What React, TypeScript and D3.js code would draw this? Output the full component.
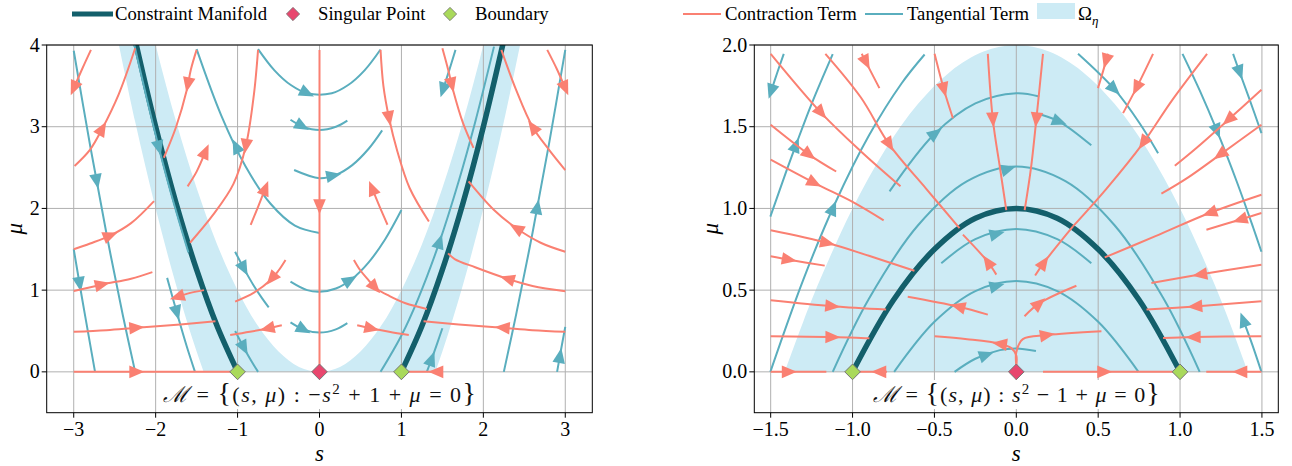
import React from "react"
import * as d3 from "d3"

type Pt = [number, number]
type Stream = { pts: Pt[]; arrow: Pt }

const SALMON = "#fa8072"
const TEAL = "#5aaebe"
const DARK = "#135f6b"
const SHADE = "#cdebf5"
const PINK = "#e8476e"
const GREEN = "#a9d95b"
const FONT = "Liberation Serif"

// ---------- left panel: M = {-s^2 + 1 + mu = 0} ----------
const leftXTicks = [-3, -2, -1, 0, 1, 2, 3]
const leftYTicks = [0, 1, 2, 3, 4]

const leftManifoldNeg: Pt[] = [[-2.25, 4.06], [-2, 3], [-1.75, 2.06], [-1.5, 1.25], [-1.25, 0.56], [-1, 0]]
const leftManifoldPos: Pt[] = [[1, 0], [1.25, 0.56], [1.5, 1.25], [1.75, 2.06], [2, 3], [2.25, 4.06]]

const leftOmegaS = [-2.5, -2.25, -2, -1.75, -1.5, -1.25, -1, -0.75, -0.5, -0.25, 0, 0.25, 0.5, 0.75, 1, 1.25, 1.5, 1.75, 2, 2.25, 2.5]
const leftOmegaUpper = [6.25, 5.06, 4, 3.06, 2.25, 1.56, 1, 0.56, 0.25, 0.06, 0, 0.06, 0.25, 0.56, 1, 1.56, 2.25, 3.06, 4, 5.06, 6.25]
const leftOmegaLower = [4.25, 3.06, 2, 1.06, 0.25, -0.44, -1, -1.44, -1.75, -1.94, -2, -1.94, -1.75, -1.44, -1, -0.44, 0.25, 1.06, 2, 3.06, 4.25]

const leftContraction: Stream[] = [
  { pts: [[-2.79, 3.94], [-2.9, 3.7], [-3.0, 3.47]], arrow: [-3.0, 3.47] },
  { pts: [[-2.99, 2.52], [-2.8, 2.72], [-2.65, 2.98], [-2.45, 3.4], [-2.25, 3.96]], arrow: [-2.65, 2.98] },
  { pts: [[-1.5, 3.94], [-1.57, 3.7], [-1.62, 3.45], [-1.75, 3.0], [-1.9, 2.62]], arrow: [-1.6, 3.51] },
  { pts: [[-1.61, 2.27], [-1.5, 2.45], [-1.39, 2.7]], arrow: [-1.39, 2.7] },
  { pts: [[-0.75, 3.94], [-0.8, 3.4], [-0.9, 2.76], [-1.05, 2.3], [-1.3, 1.92], [-1.58, 1.58]], arrow: [-0.9, 2.76] },
  { pts: [[-3, 1.5], [-2.8, 1.57], [-2.55, 1.67], [-2.3, 1.82], [-2.02, 2.09]], arrow: [-2.55, 1.67] },
  { pts: [[-3, 0.99], [-2.65, 1.07], [-2.3, 1.14], [-2.04, 1.22]], arrow: [-2.65, 1.07] },
  { pts: [[-3, 0.49], [-2.6, 0.51], [-2.23, 0.54], [-1.7, 0.58], [-1.27, 0.62]], arrow: [-2.23, 0.54] },
  { pts: [[-3, 0], [-1.05, 0]], arrow: [-2.23, 0] },
  { pts: [[-1.41, 1.0], [-1.6, 0.96], [-1.76, 0.91]], arrow: [-1.74, 0.92] },
  { pts: [[-0.415, 1.37], [-0.5, 1.24], [-0.6, 1.12], [-0.8, 0.97], [-1.03, 0.86]], arrow: [-0.58, 1.13] },
  { pts: [[-0.46, 0.57], [-0.64, 0.53], [-0.85, 0.49], [-1.09, 0.45]], arrow: [-0.64, 0.53] },
  { pts: [[-0.84, 1.8], [-0.75, 2.02], [-0.66, 2.25]], arrow: [-0.66, 2.25] },
  { pts: [[0, 3.94], [0, 0]], arrow: [0, 2.02] },
  { pts: [[0.745, 3.94], [0.78, 3.5], [0.85, 3.1], [0.95, 2.7], [1.1, 2.25], [1.335, 1.84]], arrow: [0.85, 3.1] },
  { pts: [[0.83, 1.8], [0.73, 2.03], [0.64, 2.25]], arrow: [0.64, 2.25] },
  { pts: [[1.5, 3.96], [1.57, 3.7], [1.63, 3.45], [1.75, 3.05], [1.88, 2.74]], arrow: [1.62, 3.51] },
  { pts: [[3.0, 2.47], [2.8, 2.72], [2.6, 3.0], [2.4, 3.45], [2.22, 3.94]], arrow: [2.6, 3.0] },
  { pts: [[2.78, 3.94], [2.9, 3.7], [3.0, 3.47]], arrow: [3.0, 3.47] },
  { pts: [[3.0, 1.47], [2.7, 1.58], [2.4, 1.76], [2.13, 1.98], [1.82, 2.33]], arrow: [2.4, 1.76] },
  { pts: [[3.0, 0.985], [2.6, 1.05], [2.29, 1.14], [1.9, 1.28], [1.65, 1.38], [1.57, 1.45]], arrow: [2.29, 1.14] },
  { pts: [[3.0, 0.49], [2.6, 0.51], [2.23, 0.54], [1.7, 0.58], [1.27, 0.62]], arrow: [2.23, 0.54] },
  { pts: [[1.48, 0], [1.02, 0]], arrow: [1.42, 0] },
  { pts: [[0.42, 1.37], [0.5, 1.24], [0.6, 1.12], [0.68, 1.03], [0.85, 0.93], [1.05, 0.84], [1.31, 0.77]], arrow: [0.68, 1.03] },
  { pts: [[0.46, 0.57], [0.64, 0.53], [0.85, 0.49], [1.09, 0.45]], arrow: [0.64, 0.53] },
]

const leftTangential: Stream[] = [
  { pts: [[-3, 3.93], [-2.8, 2.77], [-2.6, 1.69], [-2.4, 0.69], [-2.25, 0]], arrow: [-2.72, 2.33] },
  { pts: [[-3, 1.5], [-2.9, 0.91], [-2.8, 0.34], [-2.74, 0]], arrow: [-2.93, 1.07] },
  { pts: [[0, 1.7], [-0.3, 1.79], [-0.6, 2.06], [-0.9, 2.51], [-1.2, 3.14], [-1.5, 3.95]], arrow: [-1.03, 2.76] },
  { pts: [[-0.75, 3.95], [-0.55, 3.69], [-0.35, 3.51], [-0.15, 3.41], [0.15, 3.41], [0.35, 3.51], [0.55, 3.69], [0.745, 3.945]], arrow: [-0.15, 3.41] },
  { pts: [[-0.354, 3.085], [-0.2, 3.0], [0, 2.96], [0.2, 3.0], [0.34, 3.075]], arrow: [-0.21, 3.0] },
  { pts: [[-0.31, 2.47], [0, 2.37], [0.2, 2.41], [0.4, 2.53], [0.6, 2.73], [0.765, 2.955]], arrow: [0.175, 2.4] },
  { pts: [[-0.354, 1.105], [-0.15, 1.0], [0, 0.98], [0.2, 1.02], [0.4, 1.14], [0.6, 1.34], [0.8, 1.62], [1.0, 1.98]], arrow: [0.38, 1.12] },
  { pts: [[-1.03, 1.47], [-0.92, 1.26], [-0.8, 1.05], [-0.7, 0.9], [-0.62, 0.79]], arrow: [-0.92, 1.26] },
  { pts: [[-0.354, 0.605], [-0.19, 0.516], [0, 0.48], [0.2, 0.52], [0.34, 0.596]], arrow: [-0.19, 0.516] },
  { pts: [[-1.03, 0.5], [-0.92, 0.29], [-0.83, 0.13], [-0.75, 0]], arrow: [-0.92, 0.29] },
  { pts: [[0.745, 0], [1.0, 0.445], [1.2, 0.885], [1.46, 1.575], [1.7, 2.335], [1.9, 3.055], [2.13, 3.98]], arrow: [1.46, 1.6] },
  { pts: [[1.31, 0], [1.376, 0.177], [1.44, 0.358], [1.5, 0.534]], arrow: [1.376, 0.16] },
  { pts: [[2.25, 0], [2.4, 0.7], [2.6, 1.7], [2.8, 2.78], [3.0, 3.94]], arrow: [2.66, 2.02] },
  { pts: [[2.9, 0], [2.95, 0.28], [3.0, 0.55]], arrow: [2.94, 0.2] },
  { pts: [[1.66, 3.94], [1.58, 3.68], [1.5, 3.43]], arrow: [1.5, 3.45] },
  { pts: [[-1.86, 1.15], [-1.74, 0.72], [-1.62, 0.31], [-1.52, 0]], arrow: [-1.74, 0.72] },
  { pts: [[-2.26, 4.0], [-2.1, 3.31], [-1.96, 2.74], [-1.8, 2.14], [-1.6, 1.46]], arrow: [-1.96, 2.74] },
]

const leftBoundary: Pt[] = [[-1, 0], [1, 0]]
const leftSingular: Pt[] = [[0, 0]]

// ---------- right panel: M = {s^2 - 1 + mu = 0} ----------
const rightXTicks = [-1.5, -1, -0.5, 0, 0.5, 1, 1.5]
const rightYTicks = [0, 0.5, 1, 1.5, 2]

const rightManifold: Pt[] = [[-1, 0], [-0.75, 0.44], [-0.5, 0.75], [-0.25, 0.94], [0, 1], [0.25, 0.94], [0.5, 0.75], [0.75, 0.44], [1, 0]]

const rightOmegaS = [-1.414, -1.3, -1.2, -1.0, -0.8, -0.6, -0.4, -0.2, 0, 0.2, 0.4, 0.6, 0.8, 1.0, 1.2, 1.3, 1.414]
const rightOmegaUpper = [0, 0.31, 0.56, 1.0, 1.36, 1.64, 1.84, 1.96, 2.0, 1.96, 1.84, 1.64, 1.36, 1.0, 0.56, 0.31, 0]
const rightOmegaLower = [0, -0.5, -0.5, -0.5, -0.5, -0.5, -0.5, -0.5, -0.5, -0.5, -0.5, -0.5, -0.5, -0.5, -0.5, -0.5, 0]

const rightContraction: Stream[] = [
  { pts: [[-1.5, 1.946], [-1.19, 1.583], [-0.95, 1.35], [-0.707, 1.135]], arrow: [-1.19, 1.583] },
  { pts: [[-1.5, 1.512], [-1.263, 1.328], [-1.1, 1.226]], arrow: [-1.263, 1.328] },
  { pts: [[-1.5, 1.298], [-1.232, 1.155], [-1.0, 1.04], [-0.81, 0.927]], arrow: [-1.232, 1.155] },
  { pts: [[-1.166, 1.946], [-0.95, 1.68], [-0.774, 1.389], [-0.55, 1.12], [-0.347, 0.88]], arrow: [-0.774, 1.389] },
  { pts: [[-0.944, 1.946], [-0.9, 1.86], [-0.836, 1.736]], arrow: [-0.92, 1.89] },
  { pts: [[-0.499, 1.946], [-0.44, 1.72], [-0.387, 1.552]], arrow: [-0.44, 1.726] },
  { pts: [[-0.174, 1.946], [-0.143, 1.542], [-0.1, 1.25], [-0.061, 0.99]], arrow: [-0.143, 1.542] },
  { pts: [[0.163, 1.946], [0.122, 1.542], [0.09, 1.25], [0.051, 0.99]], arrow: [0.122, 1.542] },
  { pts: [[0.56, 1.946], [0.53, 1.84], [0.499, 1.736]], arrow: [0.55, 1.9] },
  { pts: [[0.835, 1.946], [0.733, 1.736], [0.652, 1.583]], arrow: [0.733, 1.736] },
  { pts: [[1.165, 1.946], [0.95, 1.66], [0.774, 1.4], [0.55, 1.12], [0.346, 0.89]], arrow: [0.774, 1.4] },
  { pts: [[1.497, 1.726], [1.294, 1.542], [1.1, 1.37], [0.968, 1.261]], arrow: [1.294, 1.542] },
  { pts: [[1.497, 1.512], [1.243, 1.328], [1.05, 1.19], [0.886, 1.09]], arrow: [1.243, 1.328] },
  { pts: [[1.497, 1.084], [1.18, 0.972], [0.85, 0.83], [0.54, 0.7]], arrow: [1.18, 0.972] },
  { pts: [[1.497, 0.972], [1.365, 0.931], [1.161, 0.87]], arrow: [1.365, 0.931] },
  { pts: [[1.497, 0.656], [1.12, 0.595], [0.825, 0.544]], arrow: [1.12, 0.595] },
  { pts: [[1.497, 0.432], [1.09, 0.4], [0.795, 0.381]], arrow: [1.09, 0.4] },
  { pts: [[1.497, 0.218], [1.08, 0.213], [0.896, 0.207]], arrow: [1.08, 0.213] },
  { pts: [[1.497, 0], [1.16, 0]], arrow: [1.365, 0] },
  { pts: [[0.163, 0], [0.96, 0]], arrow: [0.54, 0] },
  { pts: [[-1.5, 0], [-1.16, 0]], arrow: [-1.386, 0] },
  { pts: [[-0.79, 0], [-0.97, 0]], arrow: [-0.84, 0] },
  { pts: [[-1.5, 0.866], [-1.152, 0.788], [-0.9, 0.71], [-0.622, 0.619]], arrow: [-1.152, 0.788] },
  { pts: [[-1.5, 0.707], [-1.386, 0.686], [-1.17, 0.65]], arrow: [-1.386, 0.686] },
  { pts: [[-1.5, 0.438], [-1.121, 0.401], [-0.795, 0.381]], arrow: [-1.121, 0.401] },
  { pts: [[-1.5, 0.218], [-1.12, 0.213], [-0.897, 0.205]], arrow: [-1.12, 0.213] },
  { pts: [[-0.174, 0.35], [-0.357, 0.4], [-0.663, 0.46]], arrow: [-0.357, 0.4] },
  { pts: [[0, 0.04], [0, 0.1], [-0.03, 0.145], [-0.102, 0.172], [-0.3, 0.2], [-0.499, 0.218]], arrow: [-0.102, 0.175] },
  { pts: [[0, 0.04], [0, 0.12], [0.04, 0.2], [0.19, 0.225], [0.52, 0.248]], arrow: [0.19, 0.225] },
  { pts: [[0.05, 0.34], [0.142, 0.42], [0.367, 0.527]], arrow: [0.142, 0.42] },
  { pts: [[-0.122, 0.595], [-0.18, 0.68], [-0.326, 0.84]], arrow: [-0.174, 0.676] },
  { pts: [[0.115, 0.59], [0.17, 0.67], [0.346, 0.89]], arrow: [0.17, 0.67] },
]

const rightTangential: Stream[] = [
  { pts: [[-1.502, 0], [-1.3, 0.566], [-1.11, 1.024], [-0.9, 1.446], [-0.7, 1.766], [-0.56, 1.942]], arrow: [-1.11, 1.0] },
  { pts: [[-1.502, 0.95], [-1.4, 1.24], [-1.345, 1.39], [-1.25, 1.64], [-1.121, 1.944]], arrow: [-1.345, 1.39] },
  { pts: [[-1.42, 1.946], [-1.46, 1.83], [-1.498, 1.715]], arrow: [-1.498, 1.715] },
  { pts: [[-0.774, 1.104], [-0.5, 1.455], [-0.25, 1.643], [0, 1.705], [0.14, 1.685]], arrow: [-0.499, 1.47] },
  { pts: [[0.153, 1.573], [0.265, 1.53], [0.458, 1.386]], arrow: [0.265, 1.53] },
  { pts: [[-1.121, 0], [-0.9, 0.447], [-0.6, 0.897], [-0.3, 1.167], [0, 1.257], [0.3, 1.167], [0.6, 0.897], [0.9, 0.447], [1.12, 0]], arrow: [-0.051, 1.257] },
  { pts: [[-0.746, 0], [-0.5, 0.306], [-0.25, 0.494], [0, 0.556], [0.25, 0.494], [0.5, 0.306], [0.746, 0]], arrow: [-0.12, 0.54] },
  { pts: [[-0.458, 0.664], [-0.25, 0.812], [0, 0.874], [0.25, 0.812], [0.458, 0.664]], arrow: [-0.12, 0.86] },
  { pts: [[-0.377, 0], [-0.25, 0.08], [-0.1, 0.133], [0, 0.143], [0.12, 0.128]], arrow: [-0.183, 0.11] },
  { pts: [[1.497, 0], [1.44, 0.17], [1.385, 0.32]], arrow: [1.385, 0.32] },
  { pts: [[1.324, 1.946], [1.365, 1.83], [1.42, 1.68], [1.497, 1.461]], arrow: [1.365, 1.83] },
  { pts: [[1.015, 1.946], [1.12, 1.722], [1.222, 1.483], [1.35, 1.154], [1.446, 0.885], [1.497, 0.735]], arrow: [1.222, 1.47] },
  { pts: [[0.377, 1.946], [0.6, 1.728], [0.75, 1.526], [0.866, 1.338]], arrow: [0.6, 1.728] },
]

const rightBoundary: Pt[] = [[-1, 0], [1, 0]]
const rightSingular: Pt[] = [[0, 0]]

const DIAMOND = "M0,-7.8L7.8,0L0,7.8L-7.8,0Z"
const HEAD = "M7.5,0L-7.5,-6.3L-7.5,6.3Z"

function arrowPlace(pp: Pt[], t: Pt) {
  let best = Infinity
  let res = { x: pp[0][0], y: pp[0][1], a: 0 }
  for (let i = 0; i < pp.length - 1; i++) {
    const [x1, y1] = pp[i]
    const [x2, y2] = pp[i + 1]
    const dx = x2 - x1
    const dy = y2 - y1
    const l2 = dx * dx + dy * dy || 1
    const u = Math.max(0, Math.min(1, ((t[0] - x1) * dx + (t[1] - y1) * dy) / l2))
    const px = x1 + u * dx
    const py = y1 + u * dy
    const d = (px - t[0]) ** 2 + (py - t[1]) ** 2
    if (d < best) {
      best = d
      res = { x: px, y: py, a: (Math.atan2(dy, dx) * 180) / Math.PI }
    }
  }
  return res
}

interface PanelProps {
  id: string
  xDomain: [number, number]
  yDomain: [number, number]
  xRange: [number, number]
  yRange: [number, number]
  xTicks: number[]
  yTicks: number[]
  fmt: (d: number) => string
  omegaS: number[]
  omegaUpper: number[]
  omegaLower: number[]
  manifolds: Pt[][]
  contraction: Stream[]
  tangential: Stream[]
  boundary: Pt[]
  singular: Pt[]
  label: React.ReactNode
  labelWidth: number
  muX: number
}

function Panel(p: PanelProps) {
  const x = d3.scaleLinear().domain(p.xDomain).range(p.xRange)
  const y = d3.scaleLinear().domain(p.yDomain).range(p.yRange)
  const line = d3
    .line<Pt>()
    .x((d) => x(d[0]))
    .y((d) => y(d[1]))
    .curve(d3.curveCatmullRom.alpha(0.5))
  const area = d3
    .area<number>()
    .x((d) => x(d))
    .y0((_, i) => y(p.omegaLower[i]))
    .y1((_, i) => y(p.omegaUpper[i]))
    .curve(d3.curveCatmullRom.alpha(0.5))
  const [x0, x1] = p.xRange
  const [yb, yt] = p.yRange
  const zero = y(0)

  const streams = (list: Stream[], color: string, key: string) =>
    list.map((s, i) => {
      const pp = s.pts.map((d) => [x(d[0]), y(d[1])] as Pt)
      const a = arrowPlace(pp, [x(s.arrow[0]), y(s.arrow[1])])
      return (
        <g key={key + i}>
          <path d={line(s.pts) ?? ""} fill="none" stroke={color} strokeWidth={2} />
          <path d={HEAD} fill={color} transform={`translate(${a.x},${a.y}) rotate(${a.a})`} />
        </g>
      )
    })

  return (
    <g>
      <defs>
        <clipPath id={p.id + "-ax"}>
          <rect x={x0} y={yt} width={x1 - x0} height={yb - yt} />
        </clipPath>
        <clipPath id={p.id + "-om"}>
          <rect x={x0} y={yt} width={x1 - x0} height={zero - yt} />
        </clipPath>
      </defs>
      <path d={area(p.omegaS) ?? ""} fill={SHADE} clipPath={`url(#${p.id}-om)`} />
      {p.xTicks.map((t) => (
        <line key={"gx" + t} x1={x(t)} x2={x(t)} y1={yt} y2={yb} stroke="#b0b0b0" strokeWidth={1} />
      ))}
      {p.yTicks.map((t) => (
        <line key={"gy" + t} x1={x0} x2={x1} y1={y(t)} y2={y(t)} stroke="#b0b0b0" strokeWidth={1} />
      ))}
      <g clipPath={`url(#${p.id}-ax)`}>
        {p.manifolds.map((m, i) => (
          <path key={"m" + i} d={line(m) ?? ""} fill="none" stroke={DARK} strokeWidth={5.5} />
        ))}
        {streams(p.tangential, TEAL, "t")}
        {streams(p.contraction, SALMON, "c")}
      </g>
      {p.boundary.map((d, i) => (
        <path key={"b" + i} d={DIAMOND} transform={`translate(${x(d[0])},${y(d[1])})`} fill={GREEN} stroke="#777" strokeWidth={1} />
      ))}
      {p.singular.map((d, i) => (
        <path key={"s" + i} d={DIAMOND} transform={`translate(${x(d[0])},${y(d[1])})`} fill={PINK} stroke="#777" strokeWidth={1} />
      ))}
      <rect x={x(0) - p.labelWidth / 2 - 4} y={380} width={p.labelWidth + 8} height={29} fill="white" />
      <text
        x={x(0)}
        y={402}
        textAnchor="middle"
        fontFamily={FONT}
        fontSize={22}
        fill="#111"
        textLength={p.labelWidth}
        lengthAdjust="spacing"
      >
        {p.label}
      </text>
      <rect x={x0} y={yt} width={x1 - x0} height={yb - yt} fill="none" stroke="#000" strokeWidth={1} />
      {p.xTicks.map((t) => (
        <g key={"tx" + t}>
          <line x1={x(t)} x2={x(t)} y1={yb} y2={yb + 5} stroke="#000" />
          <text x={x(t)} y={436} textAnchor="middle" fontFamily={FONT} fontSize={20} fill="#000">
            {p.fmt(t)}
          </text>
        </g>
      ))}
      {p.yTicks.map((t) => (
        <g key={"ty" + t}>
          <line x1={x0 - 5} x2={x0} y1={y(t)} y2={y(t)} stroke="#000" />
          <text x={x0 - 7} y={y(t)} dy="0.33em" textAnchor="end" fontFamily={FONT} fontSize={20} fill="#000">
            {p.fmt(t)}
          </text>
        </g>
      ))}
      <text x={(x0 + x1) / 2} y={461} textAnchor="middle" fontFamily={FONT} fontStyle="italic" fontSize={23}>
        s
      </text>
      <text
        transform={`translate(${p.muX},${(yt + yb) / 2}) rotate(-90)`}
        textAnchor="middle"
        fontFamily={FONT}
        fontStyle="italic"
        fontSize={23}
      >
        μ
      </text>
    </g>
  )
}

const minus = (s: string) => s.replace("-", "−")
const fmtInt = (d: number) => minus(String(d))
const fmtOne = (d: number) => minus(d.toFixed(1))

function MathLabel({ sign }: { sign: "left" | "right" }) {
  const it = { fontStyle: "italic" as const }
  return (
    <>
      <tspan fontFamily="DejaVu Serif" {...it}>ℳ</tspan>
      <tspan>{" = "}</tspan>
      <tspan fontSize={28}>{"{"}</tspan>
      <tspan>{"("}</tspan>
      <tspan {...it}>s</tspan>
      <tspan>{", "}</tspan>
      <tspan {...it}>μ</tspan>
      <tspan>{") : "}</tspan>
      {sign === "left" ? <tspan>−</tspan> : null}
      <tspan {...it}>s</tspan>
      <tspan dy={-8} fontSize={15}>2</tspan>
      <tspan dy={8}>{sign === "left" ? " + 1 + " : " − 1 + "}</tspan>
      <tspan {...it}>μ</tspan>
      <tspan>{" = 0"}</tspan>
      <tspan fontSize={28}>{"}"}</tspan>
    </>
  )
}

function Legend() {
  const y = 14
  const t = { fontFamily: FONT, fontSize: 18.7, fill: "#000" }
  return (
    <g>
      <line x1={72} x2={113} y1={y} y2={y} stroke={DARK} strokeWidth={5} />
      <text x={115} y={y} dy="0.33em" {...t}>Constraint Manifold</text>
      <path d={DIAMOND} transform={`translate(293,${y}) scale(0.85)`} fill={PINK} stroke="#777" />
      <text x={318} y={y} dy="0.33em" {...t}>Singular Point</text>
      <path d={DIAMOND} transform={`translate(450,${y}) scale(0.85)`} fill={GREEN} stroke="#777" />
      <text x={475} y={y} dy="0.33em" {...t}>Boundary</text>
      <line x1={683} x2={721} y1={y} y2={y} stroke={SALMON} strokeWidth={2} />
      <text x={725} y={y} dy="0.33em" {...t}>Contraction Term</text>
      <line x1={865} x2={903} y1={y} y2={y} stroke={TEAL} strokeWidth={2} />
      <text x={907} y={y} dy="0.33em" {...t}>Tangential Term</text>
      <rect x={1037} y={3} width={38} height={16} fill={SHADE} />
      <text x={1078} y={y} dy="0.33em" {...t}>
        Ω<tspan dy={5} fontSize={13} fontStyle="italic">η</tspan>
      </text>
    </g>
  )
}

export default function App() {
  return (
    <svg
      width={1292}
      height={466}
      style={{ position: "absolute", left: 0, top: 0, background: "#fff" }}
      fontFamily={FONT}
    >
      <Legend />
      <Panel
        id="L"
        xDomain={[-3.33, 3.33]}
        yDomain={[-0.5, 4]}
        xRange={[46.7, 592.3]}
        yRange={[412.7, 45]}
        xTicks={leftXTicks}
        yTicks={leftYTicks}
        fmt={fmtInt}
        omegaS={leftOmegaS}
        omegaUpper={leftOmegaUpper}
        omegaLower={leftOmegaLower}
        manifolds={[leftManifoldNeg, leftManifoldPos]}
        contraction={leftContraction}
        tangential={leftTangential}
        boundary={leftBoundary}
        singular={leftSingular}
        label={<MathLabel sign="left" />}
        labelWidth={313}
        muX={22}
      />
      <Panel
        id="R"
        xDomain={[-1.6, 1.6]}
        yDomain={[-0.25, 2]}
        xRange={[754.3, 1278.3]}
        yRange={[412.7, 45]}
        xTicks={rightXTicks}
        yTicks={rightYTicks}
        fmt={fmtOne}
        omegaS={rightOmegaS}
        omegaUpper={rightOmegaUpper}
        omegaLower={rightOmegaLower}
        manifolds={[rightManifold]}
        contraction={rightContraction}
        tangential={rightTangential}
        boundary={rightBoundary}
        singular={rightSingular}
        label={<MathLabel sign="right" />}
        labelWidth={287}
        muX={718}
      />
    </svg>
  )
}
